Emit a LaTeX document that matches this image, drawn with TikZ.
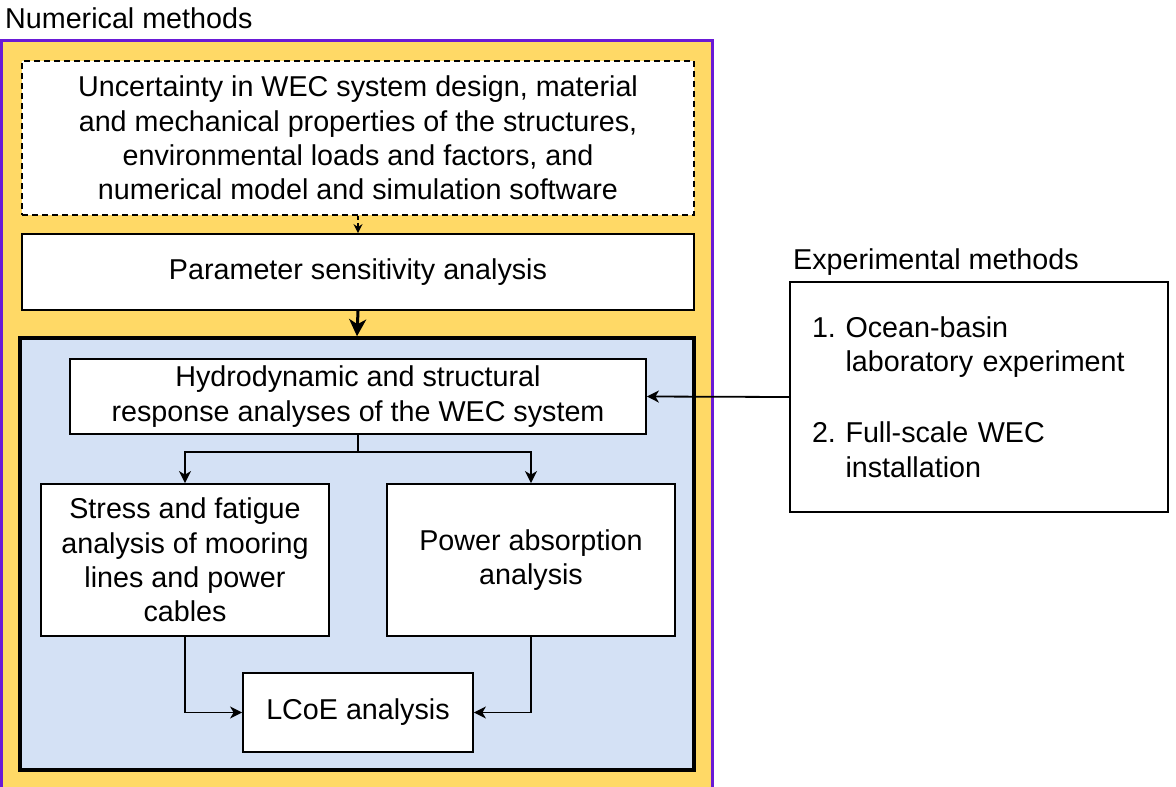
\documentclass[tikz,border=0pt]{standalone}
\usepackage{fontspec}
\setmainfont{Liberation Sans}
\usetikzlibrary{arrows.meta,positioning}
\definecolor{numyellow}{HTML}{FFD966}
\definecolor{numblue}{HTML}{D4E1F5}
\definecolor{numpurple}{HTML}{6A1AD6}
\tikzset{
  box/.style={draw=black, line width=1.8pt, fill=white, rectangle, inner sep=0pt, align=center,
    font=\fontsize{28.7pt}{34.4pt}\selectfont},
  lbl/.style={inner sep=0pt, font=\fontsize{28.7pt}{34.4pt}\selectfont},
  conn/.style={line width=1.8pt, -{Stealth[length=12pt,width=12pt,inset=3.5pt]}},
  thickconn/.style={line width=3pt, -{Stealth[length=17pt,width=17pt,inset=5pt]}},
}
\begin{document}
\begin{tikzpicture}[x=1pt,y=-1pt]
\useasboundingbox (0,0) rectangle (1176,787);
\clip (0,0) rectangle (1176,787);
% outer numerical-methods container
\draw[numpurple, line width=3pt, fill=numyellow] (1.5,40) rectangle (712.5,800);
\node[lbl, anchor=base west] (numlbl) at (5,28) {Numerical methods};
% uncertainty box
\node[box, dash pattern=on 6pt off 4pt, minimum width=672pt, minimum height=154pt] (unc) at (358,138)
  {Uncertainty in WEC system design, material\\and mechanical properties of the structures,\\environmental loads and factors, and\\numerical model and simulation software};
\node[box, minimum width=672pt, minimum height=76pt] (param) at (358,272) {\raisebox{-3pt}{Parameter sensitivity analysis}};
% blue container
\node[draw=black, line width=3.5pt, fill=numblue, rectangle, inner sep=0pt, minimum width=674pt, minimum height=432pt] (blue) at (357,554) {};
\node[box, minimum width=576pt, minimum height=75pt] (hydro) at (358,396.5)
  {Hydrodynamic and structural\\response analyses of the WEC system};
\node[box, minimum width=288pt, minimum height=152pt] (stress) at (185,560)
  {Stress and fatigue\\analysis of mooring\\lines and power\\cables};
\node[box, minimum width=288pt, minimum height=152pt] (power) at (531,560)
  {Power absorption\\analysis};
\node[box, minimum width=230pt, minimum height=79pt] (lcoe) at (358,712.5) {\raisebox{-3pt}{LCoE analysis}};
% experimental methods
\node[lbl, anchor=base west] (explbl) at (793,269) {Experimental methods};
\node[box, minimum width=378pt, minimum height=230pt, text width=334pt, inner xsep=22pt, align=left] (exp) at (979,397)
  {1.\ Ocean-basin\\\hphantom{1.\ }laboratory experiment\\[37pt]2.\ Full-scale WEC\\\hphantom{2.\ }installation};
% connectors
\draw[line width=1.5pt, dash pattern=on 4pt off 3pt, -{Stealth[length=9pt,width=9pt,inset=3pt]}] (unc.south) -- (param.north);
\draw[thickconn] (param.south) -- (blue.north);
\coordinate (split) at (358,452);
\draw[line width=1.8pt] (hydro.south) -- (split);
\draw[conn] (split) -| (stress.north);
\draw[conn] (split) -| (power.north);
\draw[conn] (stress.south) |- (lcoe.west);
\draw[conn] (power.south) |- (lcoe.east);
\draw[conn] (exp.west) -- (hydro.east);
\end{tikzpicture}
\end{document}
